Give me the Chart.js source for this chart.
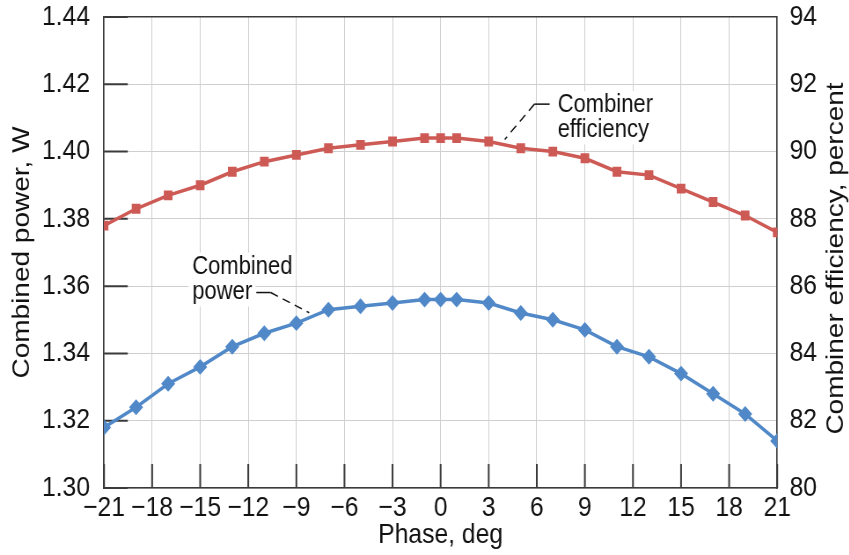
<!DOCTYPE html>
<html>
<head>
<meta charset="utf-8">
<script src="https://cdn.jsdelivr.net/npm/chart.js@4/dist/chart.umd.min.js"></script>
<style>
  html, body { margin: 0; padding: 0; background: #fff; overflow: hidden; }
  #wrap { width: 965px; height: 555px; transform: scaleX(0.88); transform-origin: 0 0; }
</style>
</head>
<body>
<div id="wrap"><canvas id="chart" width="965" height="555"></canvas></div>
<script>
// phase angles, deg
const phase = [-21, -19, -17, -15, -13, -11, -9, -7, -5, -3, -1, 0, 1, 3, 5, 7, 9, 11, 13, 15, 17, 19, 21];
// combined power, W (left axis)
const power = [1.318, 1.324, 1.331, 1.336, 1.342, 1.346, 1.349, 1.353, 1.354, 1.355, 1.356, 1.356,
  1.356, 1.355, 1.352, 1.350, 1.347, 1.342, 1.339, 1.334, 1.328, 1.322, 1.314];
// combiner efficiency, percent (right axis)
const efficiency = [87.8, 88.3, 88.7, 89.0, 89.4, 89.7, 89.9, 90.1, 90.2, 90.3, 90.4, 90.4,
  90.4, 90.3, 90.1, 90.0, 89.8, 89.4, 89.3, 88.9, 88.5, 88.1, 87.6];

const xTicks = [-21, -18, -15, -12, -9, -6, -3, 0, 3, 6, 9, 12, 15, 18, 21];
const powerTicks = [1.30, 1.32, 1.34, 1.36, 1.38, 1.40, 1.42, 1.44];
const effTicks = [80, 82, 84, 86, 88, 90, 92, 94];

const FONT = "'Liberation Sans', Arial, sans-serif";
const FS = 28;
const NOTE_FS = 25;
const AXIS = '#3a3a3a';
const GRID = '#cfcfcf';

function minus(v) {
  return v < 0 ? '\u2212' + Math.abs(v) : String(v);
}

function noPad(s) {
  s.paddingTop = 0;
  s.paddingBottom = 0;
  s.paddingLeft = 0;
  s.paddingRight = 0;
}

// inward tick marks, labels, leader lines, right title
const extras = {
  id: 'extras',
  beforeDatasetsDraw(chart) {
    const ctx = chart.ctx;
    const xs = chart.scales.x, ys = chart.scales.y;
    const a = chart.chartArea;
    ctx.save();
    ctx.strokeStyle = AXIS;
    ctx.lineWidth = 2;
    ctx.beginPath();
    xTicks.forEach(v => {
      const px = xs.getPixelForValue(v);
      ctx.moveTo(px, a.bottom);
      ctx.lineTo(px, a.bottom - 24);
    });
    powerTicks.forEach(v => {
      const py = ys.getPixelForValue(v);
      ctx.moveTo(a.left, py);
      ctx.lineTo(a.left + 27, py);
    });
    ctx.stroke();
    ctx.restore();
  },
  afterDraw(chart) {
    const ctx = chart.ctx;
    const xs = chart.scales.x, ys = chart.scales.y;
    const a = chart.chartArea;
    const P = (x, y) => [xs.getPixelForValue(x), ys.getPixelForValue(y)];
    ctx.save();
    ctx.font = NOTE_FS + 'px ' + FONT;
    ctx.textBaseline = 'middle';
    ctx.textAlign = 'left';

    function label(lines, x, y) {
      lines.forEach((t, i) => {
        const [px, py] = P(x, y[i]);
        const w = ctx.measureText(t).width;
        ctx.fillStyle = '#fff';
        ctx.fillRect(px - 4, py - 14, w + 8, 28);
        ctx.fillStyle = '#111';
        ctx.fillText(t, px, py);
      });
    }

    function leader(x0, x1, y1, x2, y2) {
      ctx.strokeStyle = '#111';
      ctx.lineWidth = 1.5;
      const [ax, ay] = P(x0, y1);
      const [bx, by] = P(x1, y1);
      const [cx, cy] = P(x2, y2);
      ctx.setLineDash([]);
      ctx.beginPath();
      ctx.moveTo(ax, ay);
      ctx.lineTo(bx, by);
      ctx.stroke();
      ctx.setLineDash([9, 6]);
      ctx.beginPath();
      ctx.moveTo(bx, by);
      ctx.lineTo(cx, cy);
      ctx.stroke();
      ctx.setLineDash([]);
    }

    label(['Combiner', 'efficiency'], 7.3, [1.4138, 1.4063]);
    leader(6.8, 5.85, 1.4141, 4.0, 1.4036);

    label(['Combined', 'power'], -15.5, [1.3658, 1.3581]);
    leader(-11.5, -10.6, 1.3581, -8.2, 1.3521);

    // right axis title reads bottom to top
    ctx.font = FS + 'px ' + FONT;
    ctx.fillStyle = '#111';
    ctx.textAlign = 'center';
    ctx.translate(950, (a.top + a.bottom) / 2 + 6);
    ctx.rotate(-Math.PI / 2);
    ctx.fillText('Combiner efficiency, percent', 0, 0);
    ctx.restore();
  }
};

const ctx = document.getElementById('chart').getContext('2d');
const chart = new Chart(ctx, {
  type: 'line',
  data: {
    datasets: [{
      label: 'Combiner efficiency',
      data: phase.map((p, i) => ({ x: p, y: efficiency[i] })),
      yAxisID: 'y2',
      borderColor: '#cd5a55',
      backgroundColor: '#cd5a55',
      borderWidth: 3.5,
      pointStyle: 'rect',
      pointRadius: 4.5,
      tension: 0
    }, {
      label: 'Combined power',
      data: phase.map((p, i) => ({ x: p, y: power[i] })),
      yAxisID: 'y',
      borderColor: '#5088c8',
      backgroundColor: '#5088c8',
      borderWidth: 3.5,
      pointStyle: 'rectRot',
      pointRadius: 5.5,
      tension: 0
    }]
  },
  options: {
    responsive: false,
    animation: false,
    devicePixelRatio: 1,
    layout: { padding: { top: 17, left: 0, right: 0, bottom: 0 } },
    plugins: {
      legend: { display: false },
      tooltip: { enabled: false }
    },
    scales: {
      x: {
        type: 'linear',
        min: -21,
        max: 21,
        afterBuildTicks: s => { s.ticks = xTicks.map(v => ({ value: v })); },
        afterFit: s => { s.height = 67; noPad(s); },
        ticks: {
          callback: v => minus(v),
          font: { family: FONT, size: FS },
          color: '#111',
          padding: 3,
          maxRotation: 0,
          autoSkip: false
        },
        grid: { color: GRID, lineWidth: 1, drawTicks: false },
        border: { color: AXIS, width: 1.5 },
        title: {
          display: true,
          text: 'Phase, deg',
          font: { family: FONT, size: FS },
          color: '#111',
          padding: { top: 0, bottom: 3 }
        }
      },
      y: {
        position: 'left',
        min: 1.30,
        max: 1.44,
        afterBuildTicks: s => { s.ticks = powerTicks.map(v => ({ value: v })); },
        afterFit: s => { s.width = 118.2; noPad(s); },
        ticks: {
          callback: v => v.toFixed(2),
          font: { family: FONT, size: FS },
          color: '#111',
          padding: 16
        },
        grid: {
          color: c => (c.tick && Math.abs(c.tick.value - 1.44) < 1e-6) ? AXIS : GRID,
          lineWidth: c => (c.tick && Math.abs(c.tick.value - 1.44) < 1e-6) ? 1.5 : 1,
          drawTicks: false
        },
        border: { color: AXIS, width: 1.5 },
        title: {
          display: true,
          text: 'Combined power, W',
          font: { family: FONT, size: FS },
          color: '#111',
          padding: { top: 8, bottom: 0 }
        }
      },
      y2: {
        position: 'right',
        min: 80,
        max: 94,
        afterBuildTicks: s => { s.ticks = effTicks.map(v => ({ value: v })); },
        afterFit: s => { s.width = 81.8; noPad(s); },
        ticks: {
          callback: v => String(v),
          font: { family: FONT, size: FS },
          color: '#111',
          padding: 14
        },
        grid: { display: false, drawTicks: false },
        border: { color: AXIS, width: 1.5 }
      }
    }
  },
  plugins: [extras]
});
</script>
</body>
</html>
